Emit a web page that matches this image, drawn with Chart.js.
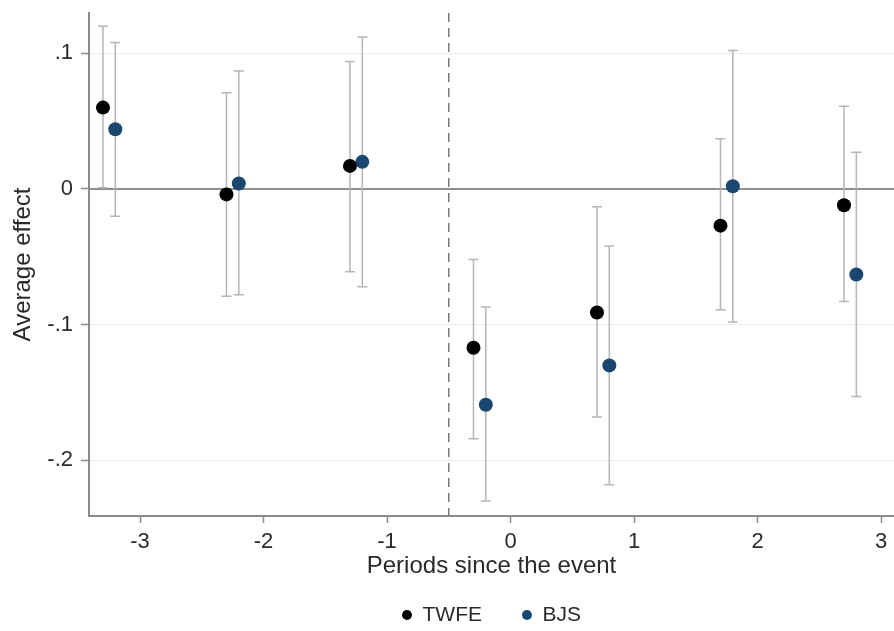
<!DOCTYPE html>
<html>
<head>
<meta charset="utf-8">
<script src="https://cdn.jsdelivr.net/npm/chart.js@4"></script>
<style>
  html, body { margin: 0; padding: 0; background: #fff; }
  #wrap { width: 894px; height: 631px; position: relative; }
</style>
</head>
<body>
<div id="wrap"><canvas id="myChart"></canvas></div>
<script>
// event-study estimates
const periods = [-3, -2, -1, 0, 1, 2, 3];
const twfeX = [-3.3, -2.3, -1.3, -0.3, 0.7, 1.7, 2.7];
const bjsX = [-3.2, -2.2, -1.2, -0.2, 0.8, 1.8, 2.8];

const twfe = [0.060, -0.004, 0.017, -0.117, -0.091, -0.027, -0.012];
const twfeLo = [0.001, -0.079, -0.061, -0.184, -0.168, -0.089, -0.083];
const twfeHi = [0.120, 0.071, 0.094, -0.052, -0.013, 0.037, 0.061];

const bjs = [0.044, 0.004, 0.020, -0.159, -0.130, 0.002, -0.063];
const bjsLo = [-0.020, -0.078, -0.072, -0.230, -0.218, -0.098, -0.153];
const bjsHi = [0.108, 0.087, 0.112, -0.087, -0.042, 0.102, 0.027];

const yTicks = [-0.2, -0.1, 0, 0.1];
const yTickLabels = ['-.2', '-.1', '0', '.1'];
const eventLine = -0.5;

const FONT = "'Liberation Sans', Arial, sans-serif";
const TEXT = '#2a2a2a';

function toPoints(xs, ys){
    var pts = [];
    for(let i=0; i<xs.length; i++){
        pts.push({x: xs[i], y: ys[i]});
    }
    return pts;
}

// zero line, event line and the CI whiskers, drawn under the points
const refLines = {
    id: 'refLines',
    afterLayout(chart){
        // legend centred under the plot area and sat a bit lower
        chart.legend.left = chart.chartArea.left;
        chart.legend.top = chart.chartArea.bottom + 48.5;
    },
    beforeDatasetsDraw(chart){
        const ctx = chart.ctx;
        const xs = chart.scales.x, ys = chart.scales.y;
        const area = chart.chartArea;
        ctx.save();

        // y = 0
        ctx.strokeStyle = '#8e8e8e';
        ctx.lineWidth = 2;
        ctx.beginPath();
        ctx.moveTo(area.left, ys.getPixelForValue(0));
        ctx.lineTo(area.right, ys.getPixelForValue(0));
        ctx.stroke();

        // event line
        ctx.strokeStyle = '#7a7a7a';
        ctx.lineWidth = 1.5;
        ctx.setLineDash([9, 6]);
        ctx.beginPath();
        ctx.moveTo(xs.getPixelForValue(eventLine), area.top);
        ctx.lineTo(xs.getPixelForValue(eventLine), area.bottom);
        ctx.stroke();
        ctx.setLineDash([]);

        // whiskers
        ctx.strokeStyle = '#b6b6b6';
        ctx.lineWidth = 1.5;
        chart.data.datasets.forEach(ds => {
            ds.data.forEach((p, i) => {
                const px = xs.getPixelForValue(p.x);
                const lo = ys.getPixelForValue(ds.ciLo[i]);
                const hi = ys.getPixelForValue(ds.ciHi[i]);
                ctx.beginPath();
                ctx.moveTo(px, lo); ctx.lineTo(px, hi);
                ctx.moveTo(px-5, lo); ctx.lineTo(px+5, lo);
                ctx.moveTo(px-5, hi); ctx.lineTo(px+5, hi);
                ctx.stroke();
            });
        });
        ctx.restore();
    }
};

const ctx = document.getElementById('myChart').getContext('2d');
window.myChart = new Chart(ctx, {
    type: 'scatter',
    data: {
        datasets: [{
            label: 'TWFE',
            data: toPoints(twfeX, twfe),
            ciLo: twfeLo,
            ciHi: twfeHi,
            backgroundColor: '#000000',
            borderColor: '#000000',
            pointRadius: 7,
            pointHoverRadius: 7,
            borderWidth: 0
        }, {
            label: 'BJS',
            data: toPoints(bjsX, bjs),
            ciLo: bjsLo,
            ciHi: bjsHi,
            backgroundColor: '#1a476f',
            borderColor: '#1a476f',
            pointRadius: 7,
            pointHoverRadius: 7,
            borderWidth: 0
        }]
    },
    options: {
        responsive: true,
        maintainAspectRatio: false,
        animation: false,
        layout: {
            autoPadding: false,   // plot runs to the right edge like the original
            padding: { top: 13, right: 0, left: 0, bottom: -23 }
        },
        plugins: {
            tooltip: { enabled: false },
            legend: {
                position: 'bottom',
                labels: {
                    usePointStyle: true,
                    pointStyle: 'circle',
                    boxWidth: 10,
                    boxHeight: 7,
                    padding: 40,
                    color: TEXT,
                    font: { family: FONT, size: 21 }
                }
            }
        },
        scales: {
            x: {
                type: 'linear',
                min: -3.413,
                max: 3.105,
                afterBuildTicks: s => { s.ticks = periods.map(v => ({value: v})); },
                afterFit: s => {
                    s.height = 67;
                    s.paddingLeft = 0;
                    s.paddingRight = 0;
                },
                ticks: {
                    color: TEXT,
                    padding: 6,
                    font: { family: FONT, size: 22 },
                    callback: v => String(v)
                },
                grid: {
                    drawOnChartArea: false,
                    drawTicks: true,
                    tickLength: 7,
                    tickColor: '#8a8a8a',
                    tickWidth: 1.5
                },
                border: { color: '#8a8a8a', width: 2 },
                title: {
                    display: true,
                    text: 'Periods since the event',
                    color: TEXT,
                    font: { family: FONT, size: 24 },
                    padding: { top: 0, bottom: 2 }
                }
            },
            y: {
                min: -0.241,
                max: 0.1297,
                afterBuildTicks: s => { s.ticks = yTicks.map(v => ({value: v})); },
                afterFit: s => {
                    s.width = 89;
                    s.paddingTop = 0;
                    s.paddingBottom = 0;
                },
                ticks: {
                    color: TEXT,
                    padding: 8,
                    font: { family: FONT, size: 22 },
                    callback: v => {
                        const k = yTicks.findIndex(t => Math.abs(t - v) < 1e-9);
                        return k >= 0 ? yTickLabels[k] : '';
                    }
                },
                grid: {
                    color: '#ececec',
                    lineWidth: 1,
                    tickLength: 8,
                    tickColor: '#8a8a8a',
                    tickWidth: 1.5
                },
                border: { color: '#8a8a8a', width: 2 },
                title: {
                    display: true,
                    text: 'Average effect',
                    color: TEXT,
                    font: { family: FONT, size: 24 },
                    padding: { top: 9, bottom: 0 }
                }
            }
        }
    },
    plugins: [refLines]
});
</script>
</body>
</html>
